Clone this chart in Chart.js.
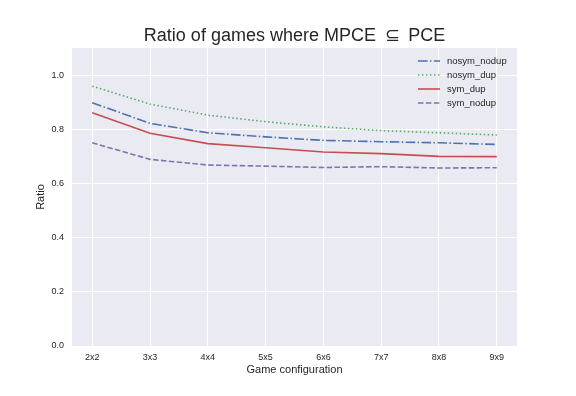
<!DOCTYPE html>
<html>
<head>
<meta charset="utf-8">
<script src="https://cdn.jsdelivr.net/npm/chart.js@4"></script>
<style>
html,body{margin:0;padding:0;background:#fff;}
#wrap{width:576px;height:396px;}
</style>
</head>
<body>
<div id="wrap"><canvas id="c" width="576" height="396"></canvas></div>
<script>
const categories = ["2x2","3x3","4x4","5x5","6x6","7x7","8x8","9x9"];
const nosymNodup = [0.898,0.822,0.787,0.772,0.759,0.754,0.750,0.744];
const nosymDup   = [0.959,0.893,0.852,0.828,0.809,0.795,0.787,0.779];
const symDup     = [0.861,0.785,0.747,0.732,0.716,0.710,0.700,0.699];
const symNodup   = [0.750,0.689,0.668,0.664,0.659,0.662,0.657,0.658];
const yTicks = [0.0,0.2,0.4,0.6,0.8,1.0];
const seriesNames = ["nosym_nodup","nosym_dup","sym_dup","sym_nodup"];
const titleText = "Ratio of games where MPCE \u2009\u2286\u2009 PCE";

const FONT = "'Liberation Sans', Arial, sans-serif";
const toPts = arr => arr.map((v,i)=>({x:i,y:v}));

const styles = [
  {color:'#4C72B0', dash:[9.6,2.4,1.5,2.4]},
  {color:'#55A868', dash:[1.5,2.5]},
  {color:'#C44E52', dash:[]},
  {color:'#8172B2', dash:[5.5,2.4]}
];
const seriesData = [nosymNodup, nosymDup, symDup, symNodup];

const datasets = seriesData.map((d,i)=>({
  label: seriesNames[i],
  data: toPts(d),
  borderColor: styles[i].color,
  backgroundColor: styles[i].color,
  borderDash: styles[i].dash,
  borderWidth: 1.6,
  pointRadius: 0,
  tension: 0,
  fill: false
}));

const bgPlugin = {
  id:'bg',
  beforeDraw(chart){
    const {ctx, chartArea:a} = chart;
    ctx.save();
    ctx.fillStyle='#fff';
    ctx.fillRect(0,0,chart.width,chart.height);
    ctx.fillStyle='#EAEAF2';
    ctx.fillRect(a.left,a.top,a.right-a.left,a.bottom-a.top);
    ctx.restore();
  }
};

const titlePlugin = {
  id:'ctitle',
  afterDraw(chart){
    const {ctx, chartArea:a} = chart;
    ctx.save();
    ctx.font = "18px " + FONT;
    ctx.fillStyle = '#262626';
    ctx.textAlign = 'center';
    ctx.textBaseline = 'middle';
    ctx.fillText(titleText, (a.left+a.right)/2, a.top - 12);
    ctx.restore();
  }
};

const legendPlugin = {
  id:'inlegend',
  afterDatasetsDraw(chart){
    const {ctx, chartArea:a} = chart;
    ctx.save();
    const x0 = a.right - 99, x1 = a.right - 77, tx = a.right - 70;
    let y = a.top + 13;
    ctx.font = "9.5px " + FONT;
    ctx.textBaseline = 'middle';
    chart.data.datasets.forEach(ds=>{
      ctx.strokeStyle = ds.borderColor;
      ctx.lineWidth = ds.borderWidth;
      ctx.setLineDash(ds.borderDash);
      ctx.beginPath();
      ctx.moveTo(x0,y); ctx.lineTo(x1,y); ctx.stroke();
      ctx.setLineDash([]);
      ctx.fillStyle = '#262626';
      ctx.fillText(ds.label, tx, y);
      y += 14;
    });
    ctx.restore();
  }
};

new Chart(document.getElementById('c'), {
  type:'line',
  data:{datasets},
  options:{
    responsive:false,
    animation:false,
    layout:{padding:{left:34,right:59,top:48,bottom:19}},
    plugins:{
      legend:{display:false},
      tooltip:{enabled:false},
      title:{display:false}
    },
    scales:{
      x:{
        type:'linear',
        min:-0.35, max:7.35,
        afterBuildTicks(s){ s.ticks = categories.map((c,i)=>({value:i})); },
        ticks:{
          callback:(v)=>categories[v],
          color:'#262626',
          font:{family:FONT,size:9},
          padding:6,
          maxRotation:0,autoSkip:false
        },
        grid:{color:'#ffffff',lineWidth:1,drawTicks:false},
        border:{display:false},
        title:{display:true,text:'Game configuration',color:'#262626',
          font:{family:FONT,size:11},padding:{top:2,bottom:0}},
        afterFit(s){ s.height = 31; }
      },
      y:{
        type:'linear',
        min:0, max:1.1,
        afterBuildTicks(s){ s.ticks = yTicks.map(v=>({value:v})); },
        ticks:{
          callback:(v)=>v.toFixed(1),
          color:'#262626',
          font:{family:FONT,size:9},
          padding:8
        },
        grid:{color:'#ffffff',lineWidth:1,drawTicks:false},
        border:{display:false},
        title:{display:true,text:'Ratio',color:'#262626',
          font:{family:FONT,size:11},padding:{top:0,bottom:8}},
        afterFit(s){ s.width = 38; }
      }
    }
  },
  plugins:[bgPlugin, titlePlugin, legendPlugin]
});
</script>
</body>
</html>
